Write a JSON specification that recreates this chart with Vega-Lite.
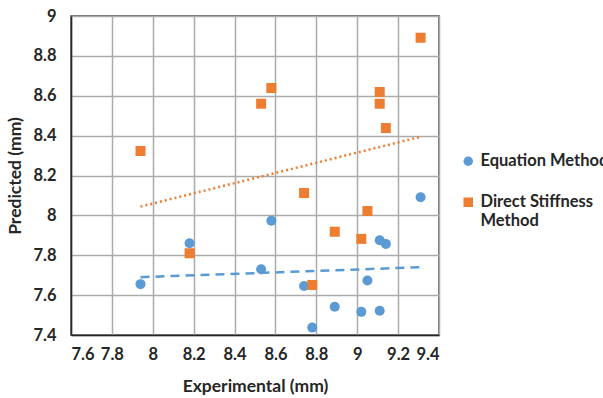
{
  "$schema": "https://vega.github.io/schema/vega-lite/v6.json",
  "width": 368,
  "height": 319,
  "autosize": {"type": "none"},
  "padding": {"left": 71, "top": 16, "right": 164, "bottom": 63},
  "config": {
    "font": "Lato",
    "view": {"stroke": "#404040", "strokeWidth": 1.5},
    "axis": {
      "labelFont": "Lato",
      "labelFontWeight": "bold",
      "labelFontSize": 16.5,
      "labelColor": "#262626",
      "titleFont": "Lato",
      "titleFontWeight": "bold",
      "titleFontSize": 17.5,
      "titleColor": "#262626",
      "ticks": false,
      "gridColor": "#ababab",
      "gridWidth": 1.5,
      "gridOpacity": 1,
      "domainColor": "#262626",
      "domainWidth": 1.5
    },
    "legend": {
      "labelFont": "Lato",
      "labelFontWeight": "bold",
      "labelFontSize": 16.5,
      "labelColor": "#262626"
    }
  },
  "data": {
    "values": [
      {"series": "Equation Method", "x": 7.94, "y": 7.655},
      {"series": "Equation Method", "x": 8.18, "y": 7.86},
      {"series": "Equation Method", "x": 8.53, "y": 7.73},
      {"series": "Equation Method", "x": 8.58, "y": 7.973},
      {"series": "Equation Method", "x": 8.74, "y": 7.646},
      {"series": "Equation Method", "x": 8.78, "y": 7.437},
      {"series": "Equation Method", "x": 8.89, "y": 7.542},
      {"series": "Equation Method", "x": 9.02, "y": 7.516},
      {"series": "Equation Method", "x": 9.05, "y": 7.673},
      {"series": "Equation Method", "x": 9.11, "y": 7.875},
      {"series": "Equation Method", "x": 9.11, "y": 7.522},
      {"series": "Equation Method", "x": 9.14, "y": 7.857},
      {"series": "Equation Method", "x": 9.31, "y": 8.091},
      {"series": "Direct Stiffness Method", "x": 7.94, "y": 8.323},
      {"series": "Direct Stiffness Method", "x": 8.18, "y": 7.81},
      {"series": "Direct Stiffness Method", "x": 8.53, "y": 8.56},
      {"series": "Direct Stiffness Method", "x": 8.58, "y": 8.639},
      {"series": "Direct Stiffness Method", "x": 8.74, "y": 8.112},
      {"series": "Direct Stiffness Method", "x": 8.78, "y": 7.651},
      {"series": "Direct Stiffness Method", "x": 8.89, "y": 7.918},
      {"series": "Direct Stiffness Method", "x": 9.02, "y": 7.882},
      {"series": "Direct Stiffness Method", "x": 9.05, "y": 8.022},
      {"series": "Direct Stiffness Method", "x": 9.11, "y": 8.619},
      {"series": "Direct Stiffness Method", "x": 9.11, "y": 8.56},
      {"series": "Direct Stiffness Method", "x": 9.14, "y": 8.438},
      {"series": "Direct Stiffness Method", "x": 9.31, "y": 8.891}
    ]
  },
  "encoding": {
    "x": {
      "field": "x",
      "type": "quantitative",
      "scale": {"domain": [7.6, 9.4], "nice": false, "zero": false},
      "axis": {
        "values": [7.6, 7.8, 8, 8.2, 8.4, 8.6, 8.8, 9, 9.2, 9.4],
        "format": ".2~f",
        "title": "Experimental (mm)",
        "labelPadding": 11,
        "titlePadding": 15
      }
    },
    "y": {
      "field": "y",
      "type": "quantitative",
      "scale": {"domain": [7.4, 9], "nice": false, "zero": false},
      "axis": {
        "values": [7.4, 7.6, 7.8, 8, 8.2, 8.4, 8.6, 8.8, 9],
        "format": ".2~f",
        "title": "Predicted (mm)",
        "labelPadding": 15,
        "titlePadding": 8
      }
    }
  },
  "layer": [
    {
      "transform": [
        {"filter": "datum.series == 'Equation Method'"},
        {"regression": "y", "on": "x"}
      ],
      "mark": {"type": "line", "color": "#5B9BD5", "strokeWidth": 2.5, "strokeDash": [9, 6]}
    },
    {
      "transform": [
        {"filter": "datum.series == 'Direct Stiffness Method'"},
        {"regression": "y", "on": "x"}
      ],
      "mark": {"type": "line", "color": "#ED7D31", "strokeWidth": 2.5, "strokeDash": [2, 3]}
    },
    {
      "mark": {"type": "point", "filled": true, "opacity": 1, "size": 100},
      "encoding": {
        "color": {
          "field": "series",
          "type": "nominal",
          "scale": {"domain": ["Equation Method", "Direct Stiffness Method"], "range": ["#5B9BD5", "#ED7D31"]},
          "legend": {
            "title": null,
            "orient": "none",
            "legendX": 389,
            "legendY": 137,
            "symbolSize": 90,
            "rowPadding": 24,
            "labelOffset": 4,
            "labelExpr": "datum.label == 'Direct Stiffness Method' ? ['Direct Stiffness', 'Method'] : datum.label"
          }
        },
        "shape": {
          "field": "series",
          "type": "nominal",
          "scale": {"domain": ["Equation Method", "Direct Stiffness Method"], "range": ["circle", "square"]}
        }
      }
    }
  ]
}
